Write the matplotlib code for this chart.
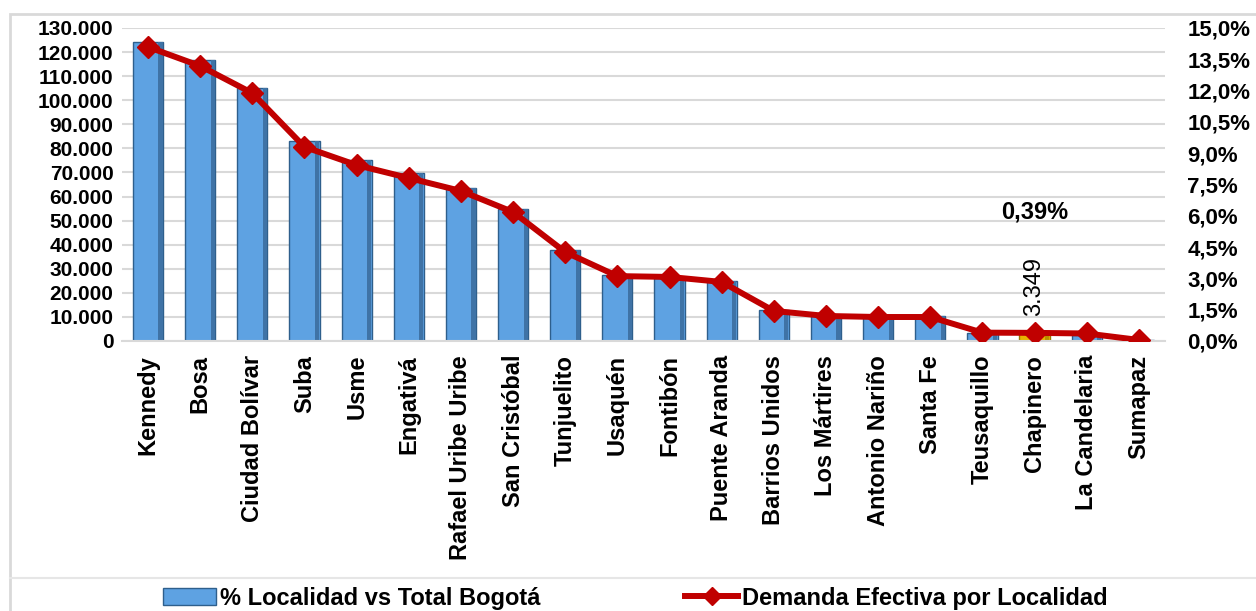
import matplotlib.pyplot as plt
from matplotlib.lines import Line2D
from matplotlib.patches import Patch, Rectangle

plt.rcParams['font.family'] = ['Liberation Sans', 'DejaVu Sans']
plt.rcParams['font.weight'] = 'bold'

localidades = ['Kennedy', 'Bosa', 'Ciudad Bolívar', 'Suba', 'Usme', 'Engativá',
               'Rafael Uribe Uribe', 'San Cristóbal', 'Tunjuelito', 'Usaquén',
               'Fontibón', 'Puente Aranda', 'Barrios Unidos', 'Los Mártires',
               'Antonio Nariño', 'Santa Fe', 'Teusaquillo', 'Chapinero',
               'La Candelaria', 'Sumapaz']
demanda = [124200, 116700, 105100, 83100, 75200, 69800, 63500, 54800, 37800,
           27400, 26200, 24900, 12900, 10400, 10400, 10400, 3300, 3349, 2500, 600]
porcentaje = [14.09, 13.18, 11.88, 9.30, 8.43, 7.81, 7.19, 6.18, 4.26, 3.11,
              3.07, 2.83, 1.44, 1.20, 1.15, 1.15, 0.40, 0.39, 0.36, 0.05]
destacada = 'Chapinero'

fig = plt.figure(figsize=(12.56, 6.11), dpi=100)
ax = fig.add_axes([0.0971, 0.4419, 0.8304, 0.5123])
ax2 = ax.twinx()

# marco del grafico y separador de la leyenda
fig.patches.append(Rectangle((10/1256, -0.01), 1.0, 1 - 14/611 + 0.01, transform=fig.transFigure,
                             fill=False, edgecolor='#d9d9d9', linewidth=2))
fig.lines.append(Line2D([10/1256, 1.0], [1 - 578/611] * 2, transform=fig.transFigure,
                        color='#e6e6e6', linewidth=1.5))

x = list(range(len(localidades)))
ancho = 0.58
colores = ['#e8b400' if l == destacada else '#5ea2e2' for l in localidades]
bordes = ['#9a7600' if l == destacada else '#2e5f8c' for l in localidades]
sombras = ['#b88f00' if l == destacada else '#3f73a6' for l in localidades]
ax.bar(x, demanda, width=ancho, color=colores, edgecolor=bordes, linewidth=1.0, zorder=2)
# efecto de bisel: franja oscura a la derecha
ax.bar([i + ancho / 2 - 0.05 for i in x], demanda, width=0.08, color=sombras,
       linewidth=0, zorder=2.1)

ax2.plot(x, [p / 100 for p in porcentaje], color='#c00000', linewidth=4.3,
         marker='D', markersize=11, zorder=3)

ax.set_xlim(-0.5, len(localidades) - 0.5)
ax.set_ylim(0, 130000)
ax.set_yticks(range(0, 130001, 10000))
ax.set_yticklabels([f'{v:,.0f}'.replace(',', '.') for v in range(0, 130001, 10000)],
                   fontsize=15, fontweight='bold')
ax2.set_ylim(0, 0.15)
ticks2 = [i * 0.015 for i in range(11)]
ax2.set_yticks(ticks2)
ax2.set_yticklabels([f'{t*100:.1f}%'.replace('.', ',') for t in ticks2],
                    fontsize=16, fontweight='bold')

ax.set_xticks(x)
ax.set_xticklabels(localidades, rotation=90, fontsize=17, fontweight='bold')

ax.grid(axis='y', color='#d9d9d9', linewidth=1.5, zorder=0)
ax.set_axisbelow(True)
for a in (ax, ax2):
    for s in a.spines.values():
        s.set_visible(False)
    a.tick_params(length=0)
ax.spines['bottom'].set_visible(True)
ax.spines['bottom'].set_color('#d9d9d9')
ax.spines['bottom'].set_linewidth(1.5)
ax.tick_params(axis='y', pad=6)
ax.tick_params(axis='x', pad=10)
ax2.tick_params(axis='y', pad=16)

i = localidades.index(destacada)
ax.text(i, demanda[i] + 7000, f'{demanda[i]:,.0f}'.replace(',', '.'), rotation=90,
        ha='center', va='bottom', fontsize=17, fontweight='normal')
ax2.text(i, 0.0618, f'{porcentaje[i]:.2f}%'.replace('.', ','), ha='center', va='center',
         fontsize=17, fontweight='bold')

handles = [Patch(facecolor='#5ea2e2', edgecolor='#2e5f8c'),
           Line2D([], [], color='#c00000', linewidth=4.3, marker='D', markersize=9)]
fig.legend(handles, ['% Localidad vs Total Bogotá', 'Demanda Efectiva por Localidad'],
           loc='center', bbox_to_anchor=(0.506, 0.021), ncol=2, frameon=False,
           columnspacing=6.1, handlelength=2.25, handletextpad=0.17,
           prop={'weight': 'bold', 'size': 17})

fig.savefig('out.png', dpi=100)
